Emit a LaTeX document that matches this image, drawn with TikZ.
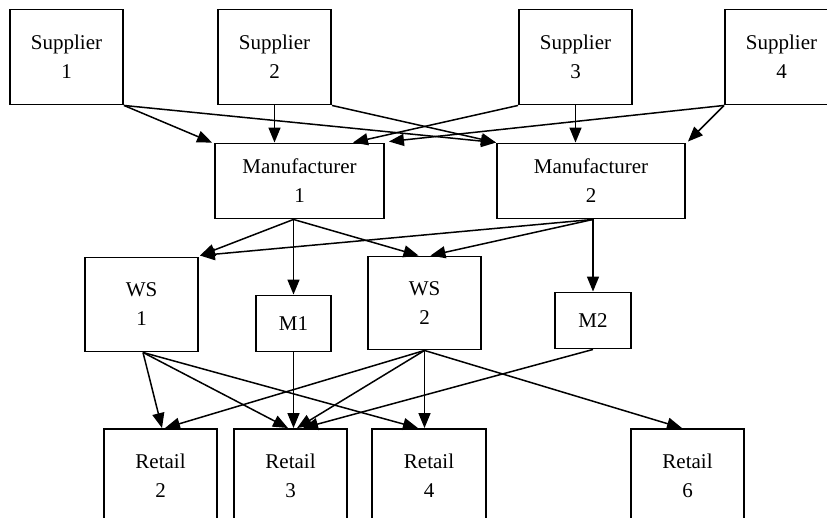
\documentclass[tikz,border=0pt]{standalone}
\usepackage{fontspec}
\setmainfont{Liberation Serif}
\usetikzlibrary{arrows.meta}
\begin{document}
\begin{tikzpicture}[x=1pt,y=-1pt,
  box/.style={draw, line width=1.9pt, rectangle, inner sep=0pt, align=center,
    font=\fontsize{21}{29}\selectfont},
  flow/.style={line width=1.5pt, -{Triangle[length=15pt,width=12pt]}}]
\useasboundingbox (0,0) rectangle (827,517);
\clip (0,0) rectangle (827,517);

% suppliers
\node[box, minimum width=113pt, minimum height=95pt] (s1) at (66.5,57) {Supplier\\1};
\node[box, minimum width=113pt, minimum height=95pt] (s2) at (274.5,57) {Supplier\\2};
\node[box, minimum width=113pt, minimum height=95pt] (s3) at (575.5,57) {Supplier\\3};
\node[box, minimum width=113pt, minimum height=95pt] (s4) at (781.5,57) {Supplier\\4};

% manufacturers
\node[box, minimum width=169pt, minimum height=75pt] (m1) at (299.5,181) {Manufacturer\\1};
\node[box, minimum width=188pt, minimum height=75pt] (m2) at (591,181) {Manufacturer\\2};

% wholesalers and direct outlets
\node[box, minimum width=113pt, minimum height=94pt] (ws1) at (141.5,304.5) {WS\\1};
\node[box, minimum width=75pt, minimum height=56pt] (o1) at (293.5,323.5) {M1};
\node[box, minimum width=113pt, minimum height=93pt] (ws2) at (424.5,303) {WS\\2};
\node[box, minimum width=76pt, minimum height=56pt] (o2) at (593,320.5) {M2};

% retailers
\node[box, minimum width=113pt, minimum height=94pt] (r2) at (160.5,476) {Retail\\2};
\node[box, minimum width=113pt, minimum height=94pt] (r3) at (290.5,476) {Retail\\3};
\node[box, minimum width=114pt, minimum height=94pt] (r4) at (429,476) {Retail\\4};
\node[box, minimum width=113pt, minimum height=94pt] (r6) at (687.5,476) {Retail\\6};

% branch points under the manufacturers
\coordinate (m1b) at (o1.north |- m1.south);
\coordinate (m2b) at (o2.north |- m2.south);

% suppliers to manufacturers
\draw[flow] (s1.south east) -- ([xshift=-2pt]m1.north west);
\draw[flow] (s1.south east) -- (m2.north west);
\draw[flow] (s2.south) -- (s2.south |- m1.north);
\draw[flow] (s2.south east) -- (m2.north west);
\draw[flow] (s3.south west) -- ([xshift=-32pt]m1.north east);
\draw[flow] (s3.south) -- (s3.south |- m2.north);
\draw[flow] (s4.south west) -- ([xshift=4pt,yshift=1pt]m1.north east);
\draw[flow] (s4.south west) -- ([xshift=2pt,yshift=1pt]m2.north east);

% manufacturers to wholesalers and outlets
\draw[flow] (m1b) -- ([xshift=1pt,yshift=1pt]ws1.north east);
\draw[flow] (m1b) -- (o1.north);
\draw[flow] (m1b) -- ([xshift=-6pt]ws2.north);
\draw[flow] (m2b) -- ([xshift=1pt,yshift=1pt]ws1.north east);
\draw[flow] (m2b) -- ([xshift=6pt]ws2.north);
\draw[flow] (m2b) -- (o2.north);

% wholesalers and outlets to retailers
\draw[flow] ([xshift=1.5pt]ws1.south) -- ([xshift=1.5pt]r2.north);
\draw[flow] ([xshift=1.5pt]ws1.south) -- ([xshift=-2.5pt]r3.north);
\draw[flow] ([xshift=1.5pt]ws1.south) -- ([xshift=-11pt]r4.north);
\draw[flow] (ws2.south) -- ([xshift=4.5pt]r2.north);
\draw[flow] (ws2.south) -- ([xshift=6.5pt]r3.north);
\draw[flow] (ws2.south) -- (ws2.south |- r4.north);
\draw[flow] (ws2.south) -- ([xshift=-5.5pt]r6.north);
\draw[flow] (o1.south) -- (o1.south |- r3.north);
\draw[flow] (o2.south) -- ([xshift=12.5pt]r3.north);
\end{tikzpicture}
\end{document}
